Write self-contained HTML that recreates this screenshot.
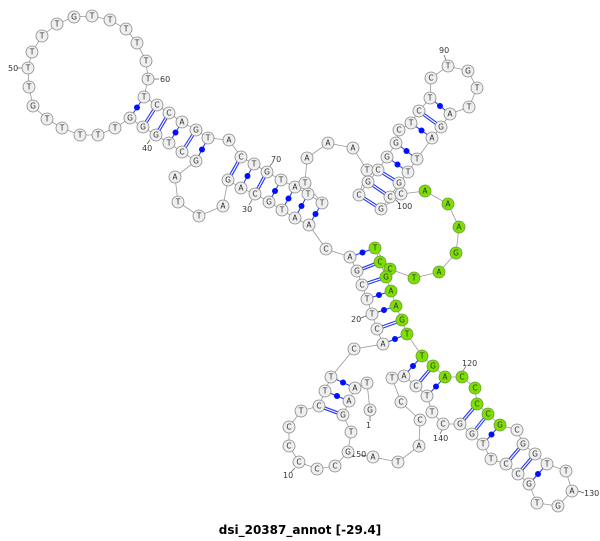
<!DOCTYPE html>
<html><head><meta charset="utf-8"><style>
html,body{margin:0;padding:0;background:#fff;}
svg{display:block;}
.n circle{stroke:#888;stroke-width:0.8;fill:#efefef;}
.n circle.g{fill:#7ee000;stroke:#6a9a40;}
.n text{font-family:"DejaVu Sans","Liberation Sans",sans-serif;font-size:7.5px;text-anchor:middle;dominant-baseline:central;fill:#333;}
.lb{font-family:"DejaVu Sans","Liberation Sans",sans-serif;font-size:8px;fill:#333;}
.d line{stroke:#2233ff;stroke-width:3.4;}
.d line.w{stroke:#fff;stroke-width:1.2;}
.s line{stroke:#2233ff;stroke-width:1;}
.s circle{fill:#0010ff;}
</style></head><body>
<svg width="600" height="541" viewBox="0 0 600 541" xmlns="http://www.w3.org/2000/svg">
<polyline fill="none" stroke="#999" stroke-width="0.8" points="370,410 367,383 355,388 349,401 343,415 351,432 348,452 335,466 317,469 299,462 289,446 289,427 301,411 319,406 325,391 331,377 354,349 383,344 377,329 372,314 367,299 362,285 357,271 350,257 326,249 309,225 295,218 282,210 269,202 255,194 241,188 228,180 223,206 199,216 178,202 175,177 196,161 182,152 169,143 156,135 143,127 130,118 115,128 98,135 80,135 62,128 47,119 33,106 29,87 28,68 32,52 42,36 57,24 74,17 92,16 110,20 126,29 137,43 146,61 148,79 144,97 157,105 169,113 182,122 196,130 208,138 229,140 241,157 254,164 267,172 281,180 295,187 308,194 322,203 305,183 307,158 328,143 353,148 367,170 359,195 368,182 378,170 387,157 396,143 399,130 411,123 419,111 430,98 431,78 448,66 468,71 477,88 469,107 450,114 441,127 432,138 417,159 408,172 399,183 390,197 381,209 401,194 425,191 448,204 459,227 456,253 439,272 414,278 390,269 375,248 380,262 386,277 391,291 396,306 402,320 407,334 422,356 433,366 445,377 462,377 475,388 477,404 488,414 500,425 517,430 523,444 535,454 547,464 566,471 572,491 558,506 537,503 529,484 518,474 506,464 491,459 483,444 472,434 460,424 443,424 432,412 427,396 416,386 404,376 392,378 401,402 420,420 419,446 398,462 373,457"/>
<g class="d">
<line x1="157" y1="105" x2="143" y2="127"/><line class="w" x1="157" y1="105" x2="143" y2="127"/>
<line x1="169" y1="113" x2="156" y2="135"/><line class="w" x1="169" y1="113" x2="156" y2="135"/>
<line x1="196" y1="130" x2="182" y2="152"/><line class="w" x1="196" y1="130" x2="182" y2="152"/>
<line x1="241" y1="157" x2="228" y2="180"/><line class="w" x1="241" y1="157" x2="228" y2="180"/>
<line x1="267" y1="172" x2="255" y2="194"/><line class="w" x1="267" y1="172" x2="255" y2="194"/>
<line x1="359" y1="195" x2="381" y2="209"/><line class="w" x1="359" y1="195" x2="381" y2="209"/>
<line x1="368" y1="182" x2="390" y2="197"/><line class="w" x1="368" y1="182" x2="390" y2="197"/>
<line x1="378" y1="170" x2="399" y2="183"/><line class="w" x1="378" y1="170" x2="399" y2="183"/>
<line x1="419" y1="111" x2="441" y2="127"/><line class="w" x1="419" y1="111" x2="441" y2="127"/>
<line x1="377" y1="329" x2="402" y2="320"/><line class="w" x1="377" y1="329" x2="402" y2="320"/>
<line x1="362" y1="285" x2="386" y2="277"/><line class="w" x1="362" y1="285" x2="386" y2="277"/>
<line x1="357" y1="271" x2="380" y2="262"/><line class="w" x1="357" y1="271" x2="380" y2="262"/>
<line x1="433" y1="366" x2="416" y2="386"/><line class="w" x1="433" y1="366" x2="416" y2="386"/>
<line x1="477" y1="404" x2="460" y2="424"/><line class="w" x1="477" y1="404" x2="460" y2="424"/>
<line x1="488" y1="414" x2="472" y2="434"/><line class="w" x1="488" y1="414" x2="472" y2="434"/>
<line x1="523" y1="444" x2="506" y2="464"/><line class="w" x1="523" y1="444" x2="506" y2="464"/>
<line x1="535" y1="454" x2="518" y2="474"/><line class="w" x1="535" y1="454" x2="518" y2="474"/>
<line x1="343" y1="415" x2="319" y2="406"/><line class="w" x1="343" y1="415" x2="319" y2="406"/>
</g>
<g class="s">
<line x1="144" y1="97" x2="130" y2="118"/><circle cx="137" cy="107.5" r="3"/>
<line x1="182" y1="122" x2="169" y2="143"/><circle cx="175.5" cy="132.5" r="3"/>
<line x1="208" y1="138" x2="196" y2="161"/><circle cx="202" cy="149.5" r="3"/>
<line x1="254" y1="164" x2="241" y2="188"/><circle cx="247.5" cy="176" r="3"/>
<line x1="281" y1="180" x2="269" y2="202"/><circle cx="275" cy="191" r="3"/>
<line x1="295" y1="187" x2="282" y2="210"/><circle cx="288.5" cy="198.5" r="3"/>
<line x1="308" y1="194" x2="295" y2="218"/><circle cx="301.5" cy="206" r="3"/>
<line x1="322" y1="203" x2="309" y2="225"/><circle cx="315.5" cy="214" r="3"/>
<line x1="387" y1="157" x2="408" y2="172"/><circle cx="397.5" cy="164.5" r="3"/>
<line x1="396" y1="143" x2="417" y2="159"/><circle cx="406.5" cy="151" r="3"/>
<line x1="411" y1="123" x2="432" y2="138"/><circle cx="421.5" cy="130.5" r="3"/>
<line x1="430" y1="98" x2="450" y2="114"/><circle cx="440" cy="106" r="3"/>
<line x1="383" y1="344" x2="407" y2="334"/><circle cx="395" cy="339" r="3"/>
<line x1="372" y1="314" x2="396" y2="306"/><circle cx="384" cy="310" r="3"/>
<line x1="367" y1="299" x2="391" y2="291"/><circle cx="379" cy="295" r="3"/>
<line x1="350" y1="257" x2="375" y2="248"/><circle cx="362.5" cy="252.5" r="3"/>
<line x1="422" y1="356" x2="404" y2="376"/><circle cx="413" cy="366" r="3"/>
<line x1="445" y1="377" x2="427" y2="396"/><circle cx="436" cy="386.5" r="3"/>
<line x1="500" y1="425" x2="483" y2="444"/><circle cx="491.5" cy="434.5" r="3"/>
<line x1="547" y1="464" x2="529" y2="484"/><circle cx="538" cy="474" r="3"/>
<line x1="355" y1="388" x2="331" y2="377"/><circle cx="343" cy="382.5" r="3"/>
<line x1="349" y1="401" x2="325" y2="391"/><circle cx="337" cy="396" r="3"/>
</g>
<g stroke="#555" stroke-width="0.7">
<line x1="370" y1="416" x2="370" y2="421"/><line x1="295" y1="468" x2="291" y2="472"/>
<line x1="366" y1="316" x2="361" y2="318"/><line x1="252" y1="200" x2="249" y2="205"/>
<line x1="150" y1="140" x2="147" y2="144"/><line x1="22" y1="68" x2="17" y2="68"/>
<line x1="154" y1="79" x2="159" y2="79"/><line x1="270" y1="166" x2="273" y2="162"/>
<line x1="446" y1="60" x2="444" y2="55"/><line x1="396" y1="200" x2="400" y2="204"/>
<line x1="463" y1="371" x2="466" y2="366"/><line x1="578" y1="491" x2="584" y2="493"/>
<line x1="442" y1="430" x2="440" y2="434"/><line x1="367" y1="456" x2="361" y2="455"/>
</g>
<g class="lb">
<text x="366" y="428">1</text><text x="283" y="478">10</text><text x="351" y="322">20</text>
<text x="242" y="212">30</text><text x="142" y="151">40</text><text x="8" y="71">50</text>
<text x="160" y="82">60</text><text x="271" y="162">70</text><text x="439" y="53">90</text>
<text x="397" y="209">100</text><text x="462" y="366">120</text><text x="584" y="496">130</text>
<text x="433" y="441">140</text><text x="351" y="457">150</text>
</g>
<g class="n">
<circle cx="370" cy="410" r="6"/><text x="370" y="410">G</text>
<circle cx="367" cy="383" r="6"/><text x="367" y="383">T</text>
<circle cx="355" cy="388" r="6"/><text x="355" y="388">A</text>
<circle cx="349" cy="401" r="6"/><text x="349" y="401">A</text>
<circle cx="343" cy="415" r="6"/><text x="343" y="415">G</text>
<circle cx="351" cy="432" r="6"/><text x="351" y="432">T</text>
<circle cx="348" cy="452" r="6"/><text x="348" y="452">G</text>
<circle cx="335" cy="466" r="6"/><text x="335" y="466">C</text>
<circle cx="317" cy="469" r="6"/><text x="317" y="469">C</text>
<circle cx="299" cy="462" r="6"/><text x="299" y="462">C</text>
<circle cx="289" cy="446" r="6"/><text x="289" y="446">C</text>
<circle cx="289" cy="427" r="6"/><text x="289" y="427">C</text>
<circle cx="301" cy="411" r="6"/><text x="301" y="411">T</text>
<circle cx="319" cy="406" r="6"/><text x="319" y="406">C</text>
<circle cx="325" cy="391" r="6"/><text x="325" y="391">T</text>
<circle cx="331" cy="377" r="6"/><text x="331" y="377">T</text>
<circle cx="354" cy="349" r="6"/><text x="354" y="349">C</text>
<circle cx="383" cy="344" r="6"/><text x="383" y="344">A</text>
<circle cx="377" cy="329" r="6"/><text x="377" y="329">C</text>
<circle cx="372" cy="314" r="6"/><text x="372" y="314">T</text>
<circle cx="367" cy="299" r="6"/><text x="367" y="299">T</text>
<circle cx="362" cy="285" r="6"/><text x="362" y="285">C</text>
<circle cx="357" cy="271" r="6"/><text x="357" y="271">G</text>
<circle cx="350" cy="257" r="6"/><text x="350" y="257">A</text>
<circle cx="326" cy="249" r="6"/><text x="326" y="249">C</text>
<circle cx="309" cy="225" r="6"/><text x="309" y="225">A</text>
<circle cx="295" cy="218" r="6"/><text x="295" y="218">A</text>
<circle cx="282" cy="210" r="6"/><text x="282" y="210">T</text>
<circle cx="269" cy="202" r="6"/><text x="269" y="202">G</text>
<circle cx="255" cy="194" r="6"/><text x="255" y="194">C</text>
<circle cx="241" cy="188" r="6"/><text x="241" y="188">A</text>
<circle cx="228" cy="180" r="6"/><text x="228" y="180">G</text>
<circle cx="223" cy="206" r="6"/><text x="223" y="206">A</text>
<circle cx="199" cy="216" r="6"/><text x="199" y="216">T</text>
<circle cx="178" cy="202" r="6"/><text x="178" y="202">T</text>
<circle cx="175" cy="177" r="6"/><text x="175" y="177">A</text>
<circle cx="196" cy="161" r="6"/><text x="196" y="161">G</text>
<circle cx="182" cy="152" r="6"/><text x="182" y="152">C</text>
<circle cx="169" cy="143" r="6"/><text x="169" y="143">T</text>
<circle cx="156" cy="135" r="6"/><text x="156" y="135">G</text>
<circle cx="143" cy="127" r="6"/><text x="143" y="127">G</text>
<circle cx="130" cy="118" r="6"/><text x="130" y="118">G</text>
<circle cx="115" cy="128" r="6"/><text x="115" y="128">T</text>
<circle cx="98" cy="135" r="6"/><text x="98" y="135">T</text>
<circle cx="80" cy="135" r="6"/><text x="80" y="135">T</text>
<circle cx="62" cy="128" r="6"/><text x="62" y="128">T</text>
<circle cx="47" cy="119" r="6"/><text x="47" y="119">T</text>
<circle cx="33" cy="106" r="6"/><text x="33" y="106">G</text>
<circle cx="29" cy="87" r="6"/><text x="29" y="87">T</text>
<circle cx="28" cy="68" r="6"/><text x="28" y="68">T</text>
<circle cx="32" cy="52" r="6"/><text x="32" y="52">T</text>
<circle cx="42" cy="36" r="6"/><text x="42" y="36">T</text>
<circle cx="57" cy="24" r="6"/><text x="57" y="24">T</text>
<circle cx="74" cy="17" r="6"/><text x="74" y="17">G</text>
<circle cx="92" cy="16" r="6"/><text x="92" y="16">T</text>
<circle cx="110" cy="20" r="6"/><text x="110" y="20">T</text>
<circle cx="126" cy="29" r="6"/><text x="126" y="29">T</text>
<circle cx="137" cy="43" r="6"/><text x="137" y="43">T</text>
<circle cx="146" cy="61" r="6"/><text x="146" y="61">T</text>
<circle cx="148" cy="79" r="6"/><text x="148" y="79">T</text>
<circle cx="144" cy="97" r="6"/><text x="144" y="97">T</text>
<circle cx="157" cy="105" r="6"/><text x="157" y="105">C</text>
<circle cx="169" cy="113" r="6"/><text x="169" y="113">C</text>
<circle cx="182" cy="122" r="6"/><text x="182" y="122">A</text>
<circle cx="196" cy="130" r="6"/><text x="196" y="130">G</text>
<circle cx="208" cy="138" r="6"/><text x="208" y="138">T</text>
<circle cx="229" cy="140" r="6"/><text x="229" y="140">A</text>
<circle cx="241" cy="157" r="6"/><text x="241" y="157">C</text>
<circle cx="254" cy="164" r="6"/><text x="254" y="164">T</text>
<circle cx="267" cy="172" r="6"/><text x="267" y="172">G</text>
<circle cx="281" cy="180" r="6"/><text x="281" y="180">T</text>
<circle cx="295" cy="187" r="6"/><text x="295" y="187">A</text>
<circle cx="308" cy="194" r="6"/><text x="308" y="194">T</text>
<circle cx="322" cy="203" r="6"/><text x="322" y="203">T</text>
<circle cx="305" cy="183" r="6"/><text x="305" y="183">T</text>
<circle cx="307" cy="158" r="6"/><text x="307" y="158">A</text>
<circle cx="328" cy="143" r="6"/><text x="328" y="143">A</text>
<circle cx="353" cy="148" r="6"/><text x="353" y="148">A</text>
<circle cx="367" cy="170" r="6"/><text x="367" y="170">T</text>
<circle cx="359" cy="195" r="6"/><text x="359" y="195">C</text>
<circle cx="368" cy="182" r="6"/><text x="368" y="182">G</text>
<circle cx="378" cy="170" r="6"/><text x="378" y="170">C</text>
<circle cx="387" cy="157" r="6"/><text x="387" y="157">G</text>
<circle cx="396" cy="143" r="6"/><text x="396" y="143">G</text>
<circle cx="399" cy="130" r="6"/><text x="399" y="130">C</text>
<circle cx="411" cy="123" r="6"/><text x="411" y="123">T</text>
<circle cx="419" cy="111" r="6"/><text x="419" y="111">C</text>
<circle cx="430" cy="98" r="6"/><text x="430" y="98">T</text>
<circle cx="431" cy="78" r="6"/><text x="431" y="78">C</text>
<circle cx="448" cy="66" r="6"/><text x="448" y="66">T</text>
<circle cx="468" cy="71" r="6"/><text x="468" y="71">G</text>
<circle cx="477" cy="88" r="6"/><text x="477" y="88">T</text>
<circle cx="469" cy="107" r="6"/><text x="469" y="107">T</text>
<circle cx="450" cy="114" r="6"/><text x="450" y="114">A</text>
<circle cx="441" cy="127" r="6"/><text x="441" y="127">G</text>
<circle cx="432" cy="138" r="6"/><text x="432" y="138">A</text>
<circle cx="417" cy="159" r="6"/><text x="417" y="159">T</text>
<circle cx="408" cy="172" r="6"/><text x="408" y="172">T</text>
<circle cx="399" cy="183" r="6"/><text x="399" y="183">G</text>
<circle cx="390" cy="197" r="6"/><text x="390" y="197">C</text>
<circle cx="381" cy="209" r="6"/><text x="381" y="209">G</text>
<circle cx="401" cy="194" r="6"/><text x="401" y="194">C</text>
<circle class="g" cx="425" cy="191" r="6"/><text x="425" y="191">A</text>
<circle class="g" cx="448" cy="204" r="6"/><text x="448" y="204">A</text>
<circle class="g" cx="459" cy="227" r="6"/><text x="459" y="227">A</text>
<circle class="g" cx="456" cy="253" r="6"/><text x="456" y="253">G</text>
<circle class="g" cx="439" cy="272" r="6"/><text x="439" y="272">A</text>
<circle class="g" cx="414" cy="278" r="6"/><text x="414" y="278">T</text>
<circle class="g" cx="390" cy="269" r="6"/><text x="390" y="269">C</text>
<circle class="g" cx="375" cy="248" r="6"/><text x="375" y="248">T</text>
<circle class="g" cx="380" cy="262" r="6"/><text x="380" y="262">C</text>
<circle class="g" cx="386" cy="277" r="6"/><text x="386" y="277">G</text>
<circle class="g" cx="391" cy="291" r="6"/><text x="391" y="291">A</text>
<circle class="g" cx="396" cy="306" r="6"/><text x="396" y="306">A</text>
<circle class="g" cx="402" cy="320" r="6"/><text x="402" y="320">G</text>
<circle class="g" cx="407" cy="334" r="6"/><text x="407" y="334">T</text>
<circle class="g" cx="422" cy="356" r="6"/><text x="422" y="356">T</text>
<circle class="g" cx="433" cy="366" r="6"/><text x="433" y="366">G</text>
<circle class="g" cx="445" cy="377" r="6"/><text x="445" y="377">A</text>
<circle class="g" cx="462" cy="377" r="6"/><text x="462" y="377">C</text>
<circle class="g" cx="475" cy="388" r="6"/><text x="475" y="388">C</text>
<circle class="g" cx="477" cy="404" r="6"/><text x="477" y="404">C</text>
<circle class="g" cx="488" cy="414" r="6"/><text x="488" y="414">C</text>
<circle class="g" cx="500" cy="425" r="6"/><text x="500" y="425">G</text>
<circle cx="517" cy="430" r="6"/><text x="517" y="430">C</text>
<circle cx="523" cy="444" r="6"/><text x="523" y="444">G</text>
<circle cx="535" cy="454" r="6"/><text x="535" y="454">G</text>
<circle cx="547" cy="464" r="6"/><text x="547" y="464">T</text>
<circle cx="566" cy="471" r="6"/><text x="566" y="471">T</text>
<circle cx="572" cy="491" r="6"/><text x="572" y="491">A</text>
<circle cx="558" cy="506" r="6"/><text x="558" y="506">G</text>
<circle cx="537" cy="503" r="6"/><text x="537" y="503">T</text>
<circle cx="529" cy="484" r="6"/><text x="529" y="484">G</text>
<circle cx="518" cy="474" r="6"/><text x="518" y="474">C</text>
<circle cx="506" cy="464" r="6"/><text x="506" y="464">C</text>
<circle cx="491" cy="459" r="6"/><text x="491" y="459">T</text>
<circle cx="483" cy="444" r="6"/><text x="483" y="444">T</text>
<circle cx="472" cy="434" r="6"/><text x="472" y="434">G</text>
<circle cx="460" cy="424" r="6"/><text x="460" y="424">G</text>
<circle cx="443" cy="424" r="6"/><text x="443" y="424">C</text>
<circle cx="432" cy="412" r="6"/><text x="432" y="412">T</text>
<circle cx="427" cy="396" r="6"/><text x="427" y="396">T</text>
<circle cx="416" cy="386" r="6"/><text x="416" y="386">C</text>
<circle cx="404" cy="376" r="6"/><text x="404" y="376">A</text>
<circle cx="392" cy="378" r="6"/><text x="392" y="378">T</text>
<circle cx="401" cy="402" r="6"/><text x="401" y="402">C</text>
<circle cx="420" cy="420" r="6"/><text x="420" y="420">C</text>
<circle cx="419" cy="446" r="6"/><text x="419" y="446">A</text>
<circle cx="398" cy="462" r="6"/><text x="398" y="462">T</text>
<circle cx="373" cy="457" r="6"/><text x="373" y="457">A</text>
</g>
<text x="300" y="534" text-anchor="middle" style="font-family:'DejaVu Sans','Liberation Sans',sans-serif;font-size:12px;font-weight:bold;fill:#000">dsi_20387_annot [-29.4]</text>
</svg>
</body></html>
